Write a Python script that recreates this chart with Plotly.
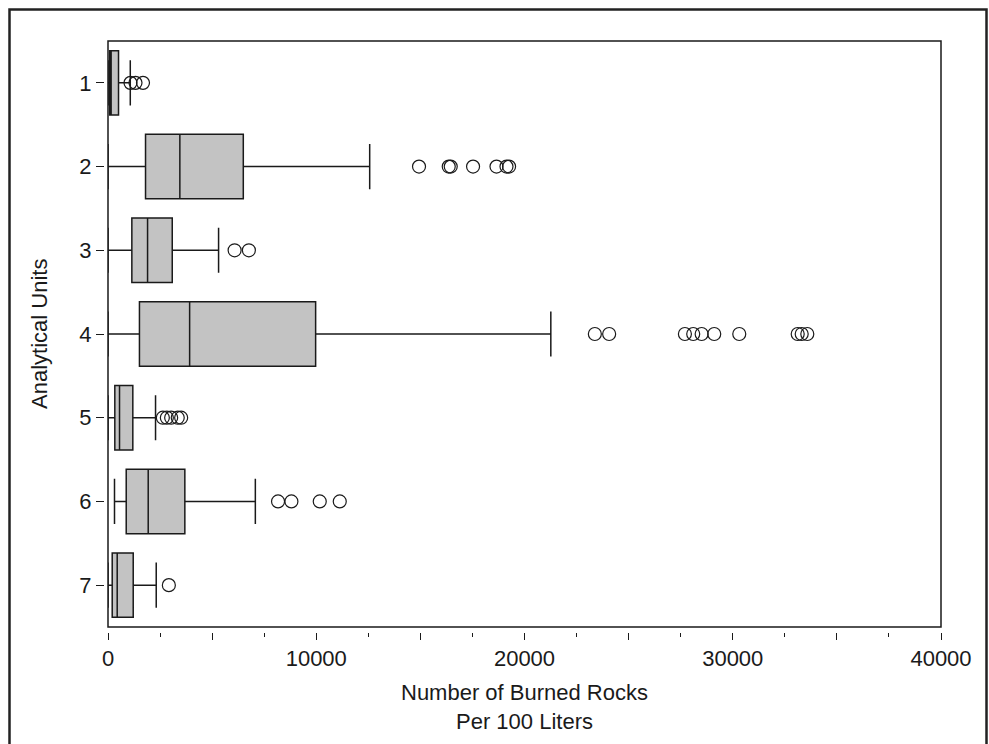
import plotly.graph_objects as go

# ---- data ----
units = [1, 2, 3, 4, 5, 6, 7]
lower_fence = [0, 0, 0, 0, 0, 312, 0]
q1 = [80, 1802, 1145, 1510, 327, 875, 202]
median = [150, 3450, 1900, 3920, 553, 1931, 442]
q3 = [505, 6497, 3085, 9970, 1192, 3690, 1211]
upper_fence = [1070, 12566, 5310, 21264, 2283, 7075, 2316]

outliers_1 = [1080, 1320, 1680]
outliers_2 = [14935, 16362, 16458, 17530, 18655, 19135, 19260]
outliers_3 = [6080, 6765]
outliers_4 = [23378, 24065, 27703, 28102, 28506, 29111, 30313, 33119, 33311, 33580]
outliers_5 = [2634, 2826, 3033, 3349, 3513]
outliers_6 = [8165, 8807, 10168, 11129]
outliers_7 = [2922]
outliers = [outliers_1, outliers_2, outliers_3, outliers_4, outliers_5, outliers_6, outliers_7]

x_major = [0, 5000, 10000, 15000, 20000, 25000, 30000, 35000, 40000]
x_major_text = ["0", "", "10000", "", "20000", "", "30000", "", "40000"]
x_minor = [2500, 7500, 12500, 17500, 22500, 27500, 32500, 37500]
y_labels = ["1", "2", "3", "4", "5", "6", "7"]
x_title = "Number of Burned Rocks<br>Per 100 Liters"
y_title = "Analytical Units"

FONT = "Liberation Sans, Arial, sans-serif"
INK = "#1a1a1a"
FS = 22

fig = go.Figure()
fig.add_trace(go.Box(
    y=units, q1=q1, median=median, q3=q3,
    lowerfence=lower_fence, upperfence=upper_fence,
    orientation="h", width=0.77, whiskerwidth=0.7,
    fillcolor="#c3c3c3", line=dict(color=INK, width=1.5),
    boxpoints=False, hoverinfo="skip", showlegend=False,
))

ox, oy = [], []
for u, vals in zip(units, outliers):
    for v in vals:
        ox.append(v)
        oy.append(u)
fig.add_trace(go.Scatter(
    x=ox, y=oy, mode="markers",
    marker=dict(symbol="circle-open", size=13, color=INK, line=dict(width=1.2, color=INK)),
    hoverinfo="skip", showlegend=False,
))

# margins: paper spans px x 104..941, y 41..632
def py(p):
    return (632 - p) / 591

fig.update_layout(
    width=989, height=744,
    margin=dict(l=104, r=48, t=41, b=112),
    paper_bgcolor="white", plot_bgcolor="white",
    font=dict(family=FONT, size=FS, color=INK),
    xaxis=dict(
        domain=[4 / 837, 1], range=[0, 40000],
        anchor="free", position=0,
        showline=False, showgrid=False, zeroline=False,
        tickmode="array", tickvals=x_major, ticktext=x_major_text,
        ticks="outside", ticklen=7, tickwidth=1.2, tickcolor=INK,
        minor=dict(tickmode="array", tickvals=x_minor, ticks="outside",
                   ticklen=4, tickwidth=1.2, tickcolor=INK),
        tickfont=dict(size=FS),
    ),
    yaxis=dict(
        domain=[5 / 591, 1], range=[7.5, 0.5],
        anchor="free", position=0,
        showline=False, showgrid=False, zeroline=False,
        tickmode="array", tickvals=units, ticktext=y_labels,
        ticks="outside", ticklen=8, tickwidth=1.2, tickcolor=INK,
        tickfont=dict(size=FS),
    ),
    shapes=[
        dict(type="rect", xref="x domain", yref="y domain", x0=0, x1=1, y0=0, y1=1,
             line=dict(color=INK, width=1.5), layer="above"),
        dict(type="rect", xref="paper", yref="paper",
             x0=(9.5 - 104) / 837, x1=(986.5 - 104) / 837,
             y0=py(780), y1=py(9.5),
             line=dict(color="#222222", width=2.5)),
    ],
    annotations=[
        dict(text=x_title, xref="x domain", yref="paper",
             x=0.5, y=py(707), xanchor="center", yanchor="middle",
             showarrow=False, font=dict(size=FS, family=FONT, color=INK)),
        dict(text=y_title, xref="paper", yref="y domain",
             x=(39 - 104) / 837, y=0.5, xanchor="center", yanchor="middle",
             textangle=-90, showarrow=False, font=dict(size=FS, family=FONT, color=INK)),
    ],
)

fig.write_html("out.html")
